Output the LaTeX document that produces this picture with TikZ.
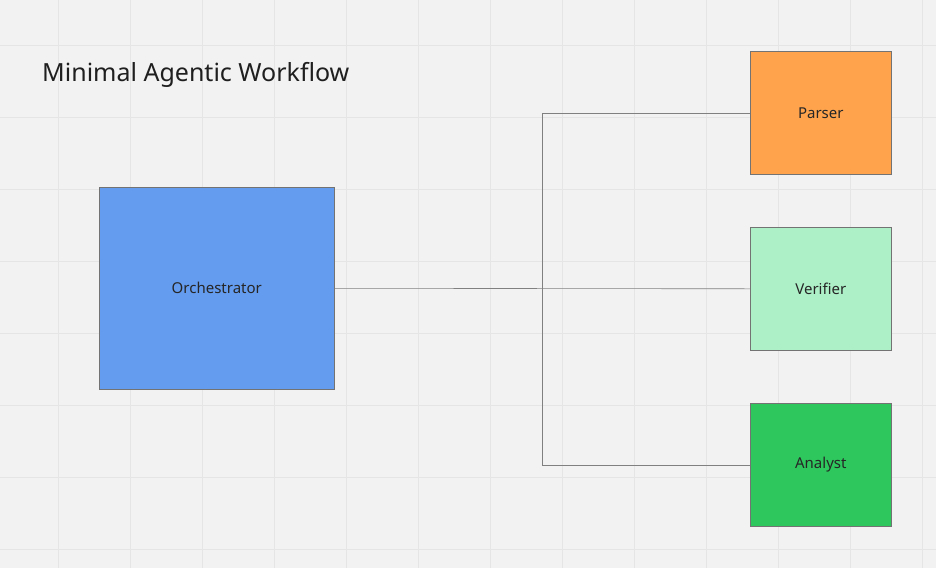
\documentclass[tikz,border=0pt]{standalone}
\usepackage{fontspec}
\setmainfont{Noto Sans}
\begin{document}
\begin{tikzpicture}[x=1pt,y=-1pt,
  box/.style={draw=black!55,line width=0.6pt,minimum width=141pt,minimum height=123pt,anchor=north west,font=\fontsize{15}{18}\selectfont,text=black!85,inner sep=0pt},
  wire/.style={draw=black!50,line width=0.6pt}]
\fill[black!5] (0,0) rectangle (936,568);
\useasboundingbox (0,0) rectangle (936,568);
\foreach \x in {58,130,...,922} \draw[black!10,line width=1pt] (\x,0) -- (\x,568);
\foreach \y in {45,117,...,568} \draw[black!10,line width=1pt] (0,\y) -- (936,\y);
\node[anchor=west,font=\fontsize{25}{30}\selectfont,text=black!88,inner sep=0pt] (title) at (42,75) {Minimal Agentic Workflow};
\node[box,fill=blue!40!cyan!30!blue!55,fill={rgb,255:red,100;green,156;blue,239},minimum width=235pt,minimum height=202pt] (orch) at (99,187) {Orchestrator};
\node[box,fill={rgb,255:red,255;green,164;blue,77}] (parser) at (750,51) {Parser};
\node[box,fill={rgb,255:red,173;green,240;blue,199}] (verifier) at (750,227) {Verifier};
\node[box,fill={rgb,255:red,46;green,199;blue,94}] (analyst) at (750,403) {Analyst};
\coordinate (j) at (542,289);
\draw[wire] (orch.east) -- (verifier.west);
\draw[wire] (parser.west) -- (parser.west -| j) -- (analyst.west -| j) -- (analyst.west);
\end{tikzpicture}
\end{document}
